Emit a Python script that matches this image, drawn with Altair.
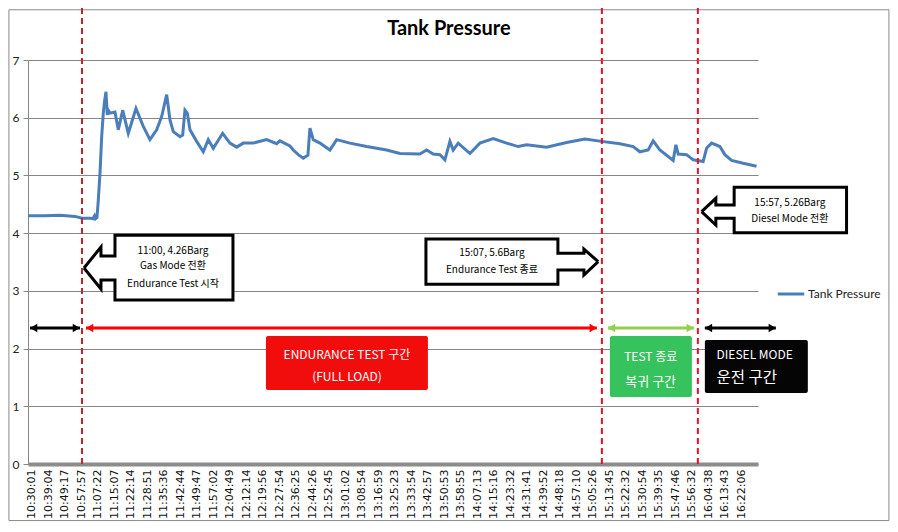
import altair as alt
import pandas as pd

# ---------------- data ----------------
TIME_LABELS = ["10:30:01", "10:39:04", "10:49:17", "10:57:57", "11:07:22", "11:15:07",
               "11:22:14", "11:28:51", "11:35:36", "11:42:44", "11:49:47", "11:57:02",
               "12:04:49", "12:12:14", "12:19:56", "12:27:54", "12:36:25", "12:44:26",
               "12:52:45", "13:01:02", "13:08:54", "13:16:59", "13:25:23", "13:33:54",
               "13:42:57", "13:50:53", "13:58:55", "14:07:13", "14:15:16", "14:23:32",
               "14:31:41", "14:39:52", "14:48:18", "14:57:10", "15:05:26", "15:13:45",
               "15:22:32", "15:30:54", "15:39:35", "15:47:46", "15:56:32", "16:04:38",
               "16:13:43", "16:22:06"]

# position in label units (label i sits at i) and tank pressure [barg]
T_POS = [-0.224, 0.806, 1.714, 2.623, 3.047, 3.531, 3.713, 3.804, 3.864, 3.955,
         4.034, 4.137, 4.240, 4.337, 4.42, 4.500, 4.579, 4.66, 4.742, 5.045,
         5.245, 5.512, 5.851, 6.317, 6.760, 7.165, 7.571, 7.874, 8.177, 8.377,
         8.577, 8.982, 9.146, 9.285, 9.425, 9.588, 9.994, 10.394, 10.697, 11.000,
         11.569, 12.011, 12.417, 12.816, 13.422, 14.234, 14.839, 15.039, 15.645, 15.845,
         16.148, 16.451, 16.735, 16.856, 17.056, 17.462, 18.068, 18.474, 19.279, 20.291,
         21.502, 22.308, 23.519, 23.925, 24.325, 24.730, 25.033, 25.336, 25.536, 25.839,
         26.548, 27.153, 27.959, 28.771, 29.473, 29.982, 31.193, 32.405, 33.513, 34.525,
         35.633, 36.439, 36.845, 37.347, 37.650, 38.056, 38.862, 39.025, 39.164, 39.673,
         40.073, 40.678, 40.884, 41.187, 41.690, 41.993, 42.399, 43.101, 43.913]
PRESSURE = [4.30, 4.30, 4.31, 4.29, 4.26, 4.26, 4.25, 4.30, 4.25, 4.27,
            4.57, 5.04, 5.67, 6.08, 6.30, 6.45, 6.05, 6.12, 6.08, 6.10,
            5.79, 6.13, 5.73, 6.16, 5.85, 5.62, 5.79, 6.02, 6.40, 5.96,
            5.76, 5.67, 5.70, 6.13, 6.08, 5.79, 5.59, 5.41, 5.62, 5.47,
            5.73, 5.56, 5.49, 5.56, 5.56, 5.62, 5.55, 5.60, 5.51, 5.44,
            5.36, 5.30, 5.35, 5.82, 5.62, 5.56, 5.44, 5.62, 5.56, 5.50,
            5.44, 5.38, 5.37, 5.44, 5.37, 5.36, 5.27, 5.59, 5.44, 5.56,
            5.38, 5.56, 5.64, 5.56, 5.50, 5.53, 5.49, 5.57, 5.63, 5.59,
            5.55, 5.50, 5.41, 5.44, 5.60, 5.44, 5.26, 5.53, 5.37, 5.36,
            5.27, 5.24, 5.47, 5.56, 5.50, 5.36, 5.26, 5.21, 5.16]

# event markers (vertical dashed lines)
EVENT_POS = [3.047, 34.543, 40.357]
EVENT_COLOR = ["#C0272D", "#E8112D", "#E8112D"]

# callout outlines (arrow + box), vertices in drawing order
CALLOUT_ID = ["c1"] * 12 + ["c2"] * 12 + ["c3"] * 12
CALLOUT_U = [3.168, 4.197, 4.197, 5.045, 5.045, 12.193, 12.193, 5.045, 5.045, 4.197, 4.197, 3.168,
             34.319, 33.453, 33.453, 31.878, 31.878, 23.883, 23.883, 31.878, 31.878, 33.453, 33.453, 34.319,
             40.582, 41.448, 41.448, 42.556, 42.556, 49.364, 49.364, 42.556, 42.556, 41.448, 41.448, 40.582]
CALLOUT_V = [3.396, 3.760, 3.604, 3.604, 3.963, 3.963, 2.842, 2.842, 3.188, 3.188, 3.032, 3.396,
             3.505, 3.725, 3.651, 3.651, 3.898, 3.898, 3.114, 3.114, 3.361, 3.361, 3.275, 3.505,
             4.372, 4.604, 4.488, 4.488, 4.794, 4.794, 4.008, 4.008, 4.257, 4.257, 4.141, 4.372]
# white box bodies of the callouts
CBOX_X1 = [5.045, 23.883, 42.556]
CBOX_X2 = [12.193, 31.878, 49.364]
CBOX_Y1 = [3.963, 3.898, 4.794]
CBOX_Y2 = [2.842, 3.114, 4.008]

CALLOUT_TEXT = ["11:00, 4.26Barg", "Gas Mode 전환", "Endurance Test 시작",
                "15:07, 5.6Barg", "Endurance Test 종료",
                "15:57, 5.26Barg", "Diesel Mode 전환"]
CALLOUT_TX = [8.558, 8.558, 8.558, 27.880, 27.880, 45.929, 45.929]
CALLOUT_TY = [3.696, 3.426, 3.119, 3.656, 3.361, 4.517, 4.245]

# period arrows
ARROW_START = [-0.103, 3.289, 34.906, 40.781]
ARROW_END = [2.925, 34.240, 40.115, 45.082]
ARROW_LEVEL = [2.356, 2.356, 2.356, 2.356]
ARROW_COLOR = ["#000000", "#FF0000", "#92D050", "#000000"]

# period boxes
BOX_X1 = [14.191, 35.028, 40.781]
BOX_X2 = [24.003, 39.994, 47.019]
BOX_Y1 = [2.218, 2.218, 2.149]
BOX_Y2 = [1.282, 1.161, 1.230]
BOX_FILL = ["#F20D0D", "#36C25C", "#050505"]

BOX_TEXT_C = ["ENDURANCE TEST 구간", "(FULL LOAD)", "TEST 종료", "복귀 구간"]
BOX_TEXT_C_X = [19.098, 19.098, 37.498, 37.498]
BOX_TEXT_C_Y = [1.889, 1.507, 1.859, 1.426]
BOX_TEXT_C_S = [12, 12, 12, 13]
BOX_TEXT_L = ["DIESEL MODE", "운전 구간"]
BOX_TEXT_L_X = [41.49, 41.49]
BOX_TEXT_L_Y = [1.889, 1.49]
BOX_TEXT_L_S = [12, 15.5]

# ---------------- frames ----------------
line_df = pd.DataFrame({"u": T_POS, "v": PRESSURE, "series": "Tank Pressure"})
ev_df = pd.DataFrame({"u": EVENT_POS, "c": EVENT_COLOR, "v": 0.0, "v2": 7.99})
co_df = pd.DataFrame({"g": CALLOUT_ID, "u": CALLOUT_U, "v": CALLOUT_V,
                      "k": list(range(len(CALLOUT_U)))})
cbox_df = pd.DataFrame({"u": CBOX_X1, "u2": CBOX_X2, "v": CBOX_Y1, "v2": CBOX_Y2})
cot_df = pd.DataFrame({"t": CALLOUT_TEXT, "u": CALLOUT_TX, "v": CALLOUT_TY})
ar_df = pd.DataFrame({"u": ARROW_START, "u2": ARROW_END, "v": ARROW_LEVEL, "c": ARROW_COLOR})
ar_df["ul"] = ar_df["u"] + 0.22
ar_df["ur"] = ar_df["u2"] - 0.22
box_df = pd.DataFrame({"u": BOX_X1, "u2": BOX_X2, "v": BOX_Y1, "v2": BOX_Y2, "c": BOX_FILL})
btc_df = pd.DataFrame({"t": BOX_TEXT_C, "u": BOX_TEXT_C_X, "v": BOX_TEXT_C_Y, "s": BOX_TEXT_C_S})
btl_df = pd.DataFrame({"t": BOX_TEXT_L, "u": BOX_TEXT_L_X, "v": BOX_TEXT_L_Y, "s": BOX_TEXT_L_S})
title_df = pd.DataFrame({"t": ["Tank Pressure"], "u": [25.275], "v": [7.537]})
frame_df = pd.DataFrame({"u": [-1.38], "u2": [51.93], "v": [7.87], "v2": [-0.98]})

# ---------------- scales / axes ----------------
XS = alt.Scale(domain=[-0.224, 44.0], nice=False, zero=False)
YS = alt.Scale(domain=[0, 7], nice=False, zero=True)
label_js = "[" + ",".join("'%s'" % t for t in TIME_LABELS) + "][datum.value]"
XAX = alt.Axis(values=list(range(len(TIME_LABELS))), labelExpr=label_js, labelAngle=270,
               labelFont="DejaVu Sans", labelFontSize=11, labelColor="#111111",
               labelPadding=5, labelOverlap=False, labelFlush=False, ticks=False,
               grid=False, domainColor="#8C8C8C", domainWidth=4, title=None)
YAX = alt.Axis(values=list(range(8)), grid=True, gridColor="#868686", gridWidth=1,
               domainColor="#868686", tickColor="#868686", tickSize=5,
               labelFont="Lato", labelFontSize=12, labelColor="#222222",
               labelPadding=4, title=None)


def X(f="u"):
    return alt.X(f, type="quantitative", scale=XS, axis=XAX)


def Y(f="v"):
    return alt.Y(f, type="quantitative", scale=YS, axis=YAX, stack=None)


frame = alt.Chart(frame_df).mark_rect(fill=None, stroke="#8A8A8A", strokeWidth=1).encode(
    x=X(), x2="u2", y=Y(), y2="v2")

line = alt.Chart(line_df).mark_line(strokeWidth=3, interpolate="linear").encode(
    x=X(), y=Y(),
    color=alt.Color("series:N", scale=alt.Scale(range=["#4A7EBB"]),
                    legend=alt.Legend(orient="none", legendX=748, legendY=219, title=None,
                                      symbolType="stroke", symbolStrokeWidth=3,
                                      symbolSize=700, labelFont="Lato", labelFontSize=12,
                                      labelColor="#222222", labelOffset=2)))

events = alt.Chart(ev_df).mark_rule(strokeWidth=2, strokeDash=[6, 4]).encode(
    x=X(), y=Y(), y2="v2", stroke=alt.Stroke("c:N", scale=None))

callout_fill = alt.Chart(cbox_df).mark_rect(fill="white", stroke=None).encode(
    x=X(), x2="u2", y=Y(), y2="v2")

callouts = alt.Chart(co_df).mark_line(color="black", strokeWidth=3, strokeJoin="miter",
                                      interpolate="linear").encode(
    x=X(), y=Y(), detail="g:N", order="k:Q")

callout_text = alt.Chart(cot_df).mark_text(font="Noto Sans CJK KR", fontSize=10,
                                           color="black", align="center",
                                           baseline="middle").encode(
    x=X(), y=Y(), text="t:N")

arrows = alt.Chart(ar_df).mark_rule(strokeWidth=3).encode(
    x=X(), x2="u2", y=Y(), stroke=alt.Stroke("c:N", scale=None))
heads_l = alt.Chart(ar_df).mark_point(shape="triangle-left", size=70, filled=True,
                                      opacity=1).encode(
    x=X("ul"), y=Y(), fill=alt.Fill("c:N", scale=None))
heads_r = alt.Chart(ar_df).mark_point(shape="triangle-right", size=70, filled=True,
                                      opacity=1).encode(
    x=X("ur"), y=Y(), fill=alt.Fill("c:N", scale=None))

boxes = alt.Chart(box_df).mark_rect(cornerRadius=2).encode(
    x=X(), x2="u2", y=Y(), y2="v2", fill=alt.Fill("c:N", scale=None))

box_text_c = alt.Chart(btc_df).mark_text(font="Noto Sans CJK KR", color="white",
                                         align="center", baseline="middle").encode(
    x=X(), y=Y(), text="t:N", size=alt.Size("s:Q", scale=None))
box_text_l = alt.Chart(btl_df).mark_text(font="Noto Sans CJK KR", color="white",
                                         align="left", baseline="middle").encode(
    x=X(), y=Y(), text="t:N", size=alt.Size("s:Q", scale=None))

title = alt.Chart(title_df).mark_text(font="Lato", fontSize=20, fontWeight="bold",
                                      color="black", align="center",
                                      baseline="middle").encode(
    x=X(), y=Y(), text="t:N")

chart = alt.layer(
    frame, line, events, callout_fill, callouts, callout_text, arrows, heads_l, heads_r,
    boxes, box_text_c, box_text_l, title
).properties(
    width=730, height=404,
    padding={"left": 20, "top": 52, "right": 132, "bottom": 58},
    autosize=alt.AutoSizeParams(type="none"),
    background="white",
).configure_view(stroke=None)

chart.save("out.html", embed_options={"renderer": "svg", "actions": False})
